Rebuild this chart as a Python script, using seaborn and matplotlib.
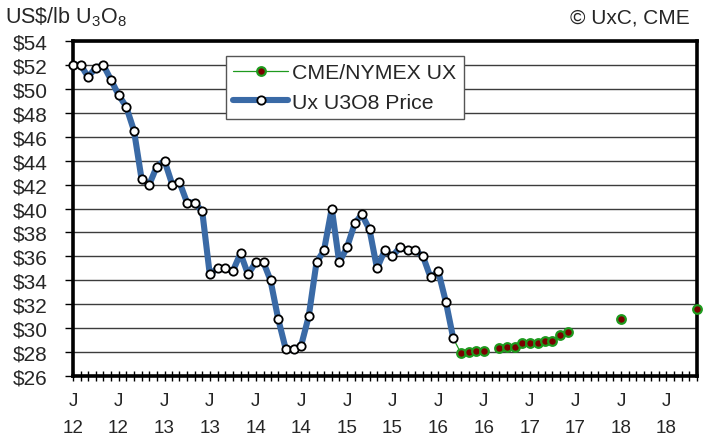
import pandas as pd
import matplotlib.pyplot as plt
from matplotlib.lines import Line2D
import seaborn as sns

# Ux U3O8 month-end spot price, Jan 2012 .. Mar 2016
ux_start = "2012-01-01"
ux_price = [52.0, 52.0, 51.0, 51.75, 52.0, 50.75, 49.5, 48.5, 46.5, 42.5, 42.0, 43.5,
            44.0, 42.0, 42.25, 40.5, 40.5, 39.75, 34.5, 35.0, 35.0, 34.75, 36.25, 34.5,
            35.5, 35.5, 34.0, 30.75, 28.25, 28.25, 28.5, 31.0, 35.5, 36.5, 40.0, 35.5,
            36.75, 38.75, 39.5, 38.25, 35.0, 36.5, 36.0, 36.75, 36.5, 36.5, 36.0, 34.25,
            34.75, 32.15, 29.15]

# CME/NYMEX UX futures settlement
cme_month = ["2016-04", "2016-05", "2016-06", "2016-07",
             "2016-09", "2016-10", "2016-11", "2016-12", "2017-01", "2017-02",
             "2017-03", "2017-04", "2017-05", "2017-06", "2018-01", "2018-11"]
cme_price = [27.9, 28.0, 28.05, 28.1,
             28.35, 28.45, 28.45, 28.8, 28.8, 28.8,
             28.9, 28.9, 29.45, 29.65, 30.8, 31.6]

y_ticks = list(range(26, 55, 2))
x_start, x_end = "2012-01-01", "2018-11-01"

BLUE = "#3A6AA6"
GREEN = "#1E9A1E"
DARKRED = "#7A0000"

sns.set_style("white")
plt.rcParams["font.family"] = ["Liberation Sans", "DejaVu Sans"]
plt.rcParams["mathtext.fontset"] = "custom"
plt.rcParams["mathtext.rm"] = "Liberation Sans"

ux_df = pd.DataFrame({
    "date": pd.date_range(ux_start, periods=len(ux_price), freq="MS"),
    "price": ux_price,
})
cme_df = pd.DataFrame({"date": pd.to_datetime(cme_month), "price": cme_price})
# break the futures line wherever a month is missing
months = cme_df["date"].dt.year * 12 + cme_df["date"].dt.month
cme_df["seg"] = (months.diff() != 1).cumsum()

# thin connector from last spot price to first futures price
link_df = pd.concat([ux_df.tail(1), cme_df.head(1)[["date", "price"]]])

fig = plt.figure(figsize=(7.08, 4.39), dpi=100)
ax = fig.add_axes([73 / 708, 1 - 377 / 439, 624 / 708, 335 / 439])

sns.lineplot(data=link_df, x="date", y="price", color=GREEN, linewidth=0.9,
             ax=ax, zorder=2)
sns.lineplot(data=cme_df, x="date", y="price", units="seg", estimator=None,
             color=GREEN, linewidth=0.9, marker="o", markersize=6.2,
             markerfacecolor=DARKRED, markeredgecolor=GREEN, markeredgewidth=1.6,
             ax=ax, zorder=3, clip_on=False)
sns.lineplot(data=ux_df, x="date", y="price", color=BLUE, linewidth=4.4,
             marker="o", markersize=6.0, markerfacecolor="white",
             markeredgecolor="black", markeredgewidth=1.3,
             ax=ax, zorder=4, clip_on=False)

ax.set_xlim(pd.Timestamp(x_start), pd.Timestamp(x_end))
ax.set_ylim(26, 54)
ax.set_xlabel("")
ax.set_ylabel("")

# y axis
ax.set_yticks(y_ticks)
ax.set_yticklabels([f"${v}" for v in y_ticks])
ax.yaxis.grid(True, color="#3c3c3c", linewidth=1.0)
ax.xaxis.grid(False)
ax.set_axisbelow(True)

# x axis: a tick each month, "J" label on Jan and Jul
month_ticks = pd.date_range(x_start, x_end, freq="MS")
ax.set_xticks(month_ticks)
ax.set_xticklabels([f"J\n{d:%y}" if d.month in (1, 7) else "" for d in month_ticks],
                   linespacing=1.8)

ax.tick_params(axis="y", left=True, direction="out", length=6, width=1,
               color="black", labelsize=15, pad=12)
ax.tick_params(axis="x", bottom=True, direction="inout", length=7.5, width=1,
               color="black", labelsize=13.6, pad=7.5)

for s in ax.spines.values():
    s.set_color("black")
    s.set_linewidth(2.6)

handles = [
    Line2D([], [], color=GREEN, linewidth=0.9, marker="o", markersize=6.2,
           markerfacecolor=DARKRED, markeredgecolor=GREEN, markeredgewidth=1.6),
    Line2D([], [], color=BLUE, linewidth=4.4, marker="o", markersize=6.0,
           markerfacecolor="white", markeredgecolor="black", markeredgewidth=1.3),
]
leg = ax.legend(handles, ["CME/NYMEX UX", "Ux U3O8 Price"], loc="upper left",
                bbox_to_anchor=(0.245, 0.955), borderaxespad=0, fontsize=15.3,
                frameon=True, fancybox=False, framealpha=1, edgecolor="#555555",
                handlelength=2.6, handletextpad=0.2, borderpad=0.33,
                labelspacing=0.5)
leg.get_frame().set_linewidth(1.0)

fig.text(5 / 708, 1 - 23 / 439, r"US\$/lb U$_3$O$_8$", fontsize=15.5, va="baseline")
fig.text(690 / 708, 1 - 23 / 439, "© UxC, CME", fontsize=15, va="baseline",
         ha="right")

fig.savefig("out.png", dpi=100)
